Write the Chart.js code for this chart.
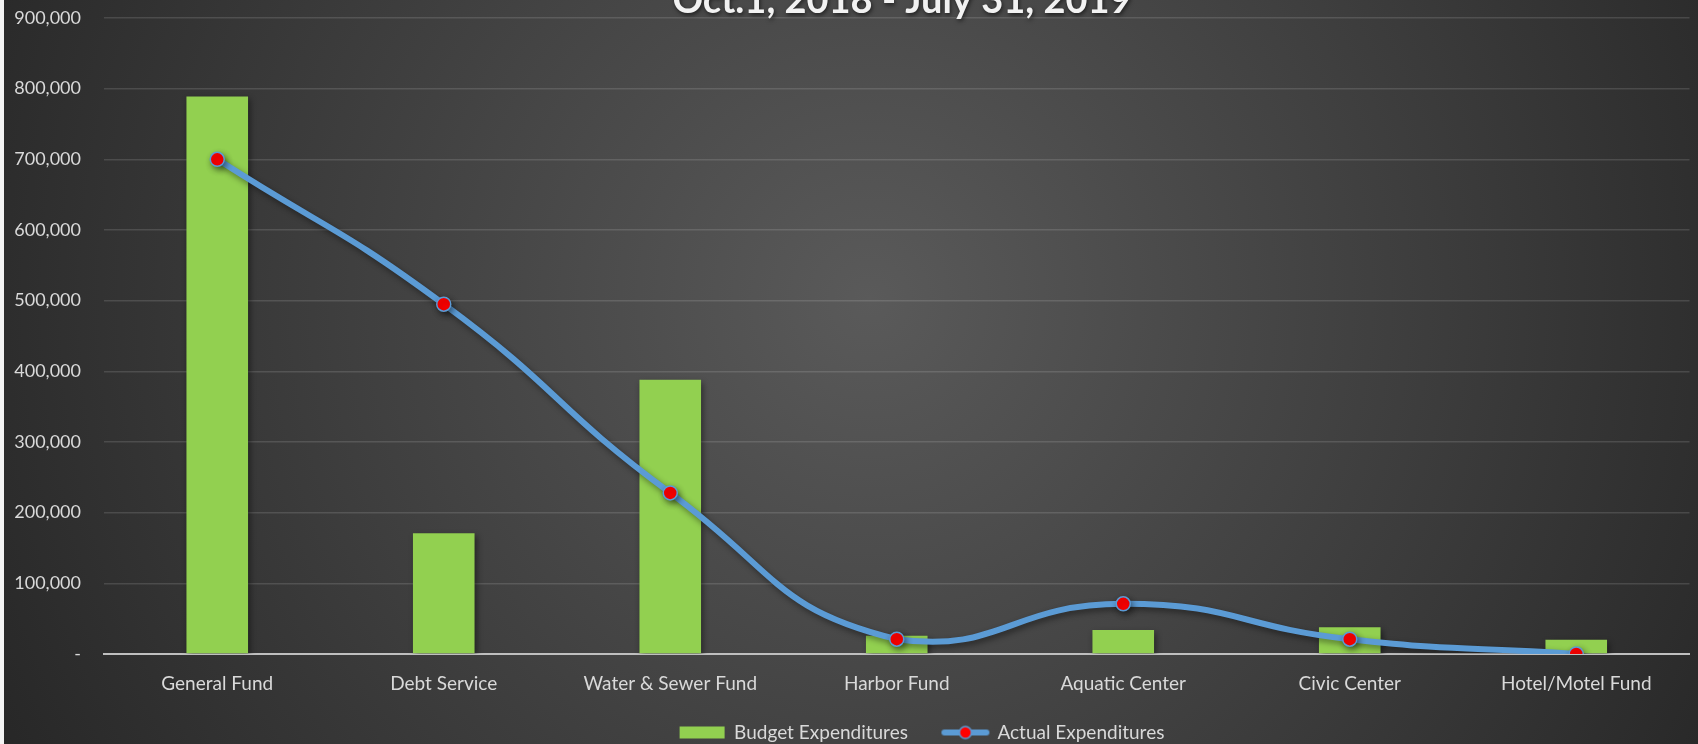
<!DOCTYPE html>
<html>
<head>
<meta charset="utf-8">
<script src="https://cdn.jsdelivr.net/npm/chart.js@4/dist/chart.umd.min.js"></script>
<style>
  html, body { margin: 0; padding: 0; background: #ffffff; }
  #wrap { position: relative; width: 1698px; height: 744px; }
</style>
</head>
<body>
<div id="wrap"><canvas id="fund-chart"></canvas></div>
<script>
// Fund expenditures, Oct.1, 2018 - July 31, 2019
const titleText = 'Oct.1, 2018 - July 31, 2019';
const funds = ['General Fund', 'Debt Service', 'Water & Sewer Fund', 'Harbor Fund', 'Aquatic Center', 'Civic Center', 'Hotel/Motel Fund'];
const budgetExpenditures = [789000, 171000, 388000, 26000, 34000, 38000, 20000];
const actualExpenditures = [700000, 495000, 228000, 21000, 71000, 21000, 0];
const yTickMax = 900000;
const yTickStep = 100000;

const FONT = 'Lato, "Open Sans", sans-serif';
const TEXT_COLOR = '#d9d9d9';

// legend symbol for the line series: a short line with a marker on it
function lineLegendSymbol() {
    const c = document.createElement('canvas');
    c.width = 50;
    c.height = 16;
    const g = c.getContext('2d');
    g.strokeStyle = '#5b9bd5';
    g.lineWidth = 6;
    g.lineCap = 'round';
    g.beginPath();
    g.moveTo(4, 8);
    g.lineTo(46, 8);
    g.stroke();
    g.beginPath();
    g.arc(25, 8, 6, 0, Math.PI * 2);
    g.fillStyle = '#ff0000';
    g.fill();
    g.lineWidth = 1.5;
    g.stroke();
    return c;
}

const backgroundPlugin = {
    id: 'darkBackground',
    beforeDraw(chart) {
        const ctx = chart.ctx;
        const w = chart.width, h = chart.height;
        ctx.save();
        const grad = ctx.createRadialGradient(870, 300, 0, 870, 300, 1000);
        grad.addColorStop(0, '#5a5a5a');
        grad.addColorStop(1, '#262626');
        ctx.fillStyle = grad;
        ctx.fillRect(0, 0, w, h);
        ctx.fillStyle = '#f4f4f4';
        ctx.fillRect(0, 0, 4, h);
        ctx.restore();
    }
};

const shadowPlugin = {
    id: 'seriesShadow',
    beforeDatasetDraw(chart) {
        const ctx = chart.ctx;
        ctx.save();
        ctx.shadowColor = 'rgba(0, 0, 0, 0.45)';
        ctx.shadowBlur = 6;
        ctx.shadowOffsetX = 2;
        ctx.shadowOffsetY = 3;
    },
    afterDatasetDraw(chart) {
        chart.ctx.restore();
    }
};

// the legend in the original sits right of the canvas centre, close under the labels
const legendShiftPlugin = {
    id: 'legendShift',
    afterLayout(chart) {
        const lg = chart.legend;
        if (!lg) return;
        lg.left += 142;
        lg.top -= 16;
        lg.bottom -= 16;
    }
};

const titlePlugin = {
    id: 'cutTitle',
    afterDraw(chart) {
        const ctx = chart.ctx;
        ctx.save();
        ctx.font = 'bold 38px ' + FONT;
        ctx.fillStyle = '#f2f2f2';
        ctx.textAlign = 'center';
        ctx.textBaseline = 'alphabetic';
        ctx.shadowColor = 'rgba(0, 0, 0, 0.6)';
        ctx.shadowBlur = 4;
        ctx.shadowOffsetX = 1;
        ctx.shadowOffsetY = 2;
        ctx.fillText(titleText, 902, 13);
        ctx.restore();
    }
};

const ctx = document.getElementById('fund-chart');
const chart = new Chart(ctx, {
    data: {
        labels: funds,
        datasets: [{
            type: 'line',
            label: 'Actual Expenditures',
            data: actualExpenditures,
            borderColor: '#5b9bd5',
            backgroundColor: '#5b9bd5',
            borderWidth: 6,
            tension: 0.5,
            pointRadius: 7,
            pointBackgroundColor: '#ff0000',
            pointBorderColor: '#5b9bd5',
            pointBorderWidth: 1.5,
            order: 0
        }, {
            type: 'bar',
            label: 'Budget Expenditures',
            data: budgetExpenditures,
            backgroundColor: '#92d050',
            borderWidth: 0,
            barPercentage: 0.272,
            categoryPercentage: 1,
            order: 1
        }]
    },
    options: {
        responsive: true,
        maintainAspectRatio: false,
        animation: false,
        layout: {
            padding: { left: 4, right: 0, top: 18, bottom: -24 }
        },
        scales: {
            x: {
                grid: { display: false },
                border: { display: true, color: '#bfbfbf', width: 2 },
                ticks: {
                    color: TEXT_COLOR,
                    font: { family: FONT, size: 19 },
                    padding: 10,
                    maxRotation: 0,
                    autoSkip: false
                },
                afterFit(scale) { scale.height = 50; }
            },
            y: {
                min: 0,
                max: yTickMax,
                grid: {
                    color: 'rgba(255, 255, 255, 0.13)',
                    lineWidth: 1.5,
                    drawTicks: false
                },
                border: { display: false },
                ticks: {
                    stepSize: yTickStep,
                    color: TEXT_COLOR,
                    font: { family: FONT, size: 18 },
                    padding: 23,
                    callback: v => v === 0 ? '-' : v.toLocaleString('en-US')
                },
                afterFit(scale) {
                    scale.width = 100;
                    scale.paddingTop = 0;
                    scale.paddingBottom = 0;
                }
            }
        },
        plugins: {
            legend: {
                display: true,
                position: 'bottom',
                reverse: true,
                labels: {
                    color: TEXT_COLOR,
                    font: { family: FONT, size: 19 },
                    usePointStyle: true,
                    pointStyleWidth: 45,
                    boxHeight: 12,
                    padding: 35,
                    generateLabels(chart) {
                        const items = Chart.defaults.plugins.legend.labels.generateLabels(chart);
                        items.forEach(item => {
                            item.pointStyle = item.datasetIndex === 0 ? lineLegendSymbol() : 'rect';
                            if (item.datasetIndex === 1) item.lineWidth = 0;
                        });
                        return items;
                    }
                }
            },
            tooltip: { enabled: false }
        }
    },
    plugins: [backgroundPlugin, shadowPlugin, legendShiftPlugin, titlePlugin]
});
</script>
</body>
</html>
